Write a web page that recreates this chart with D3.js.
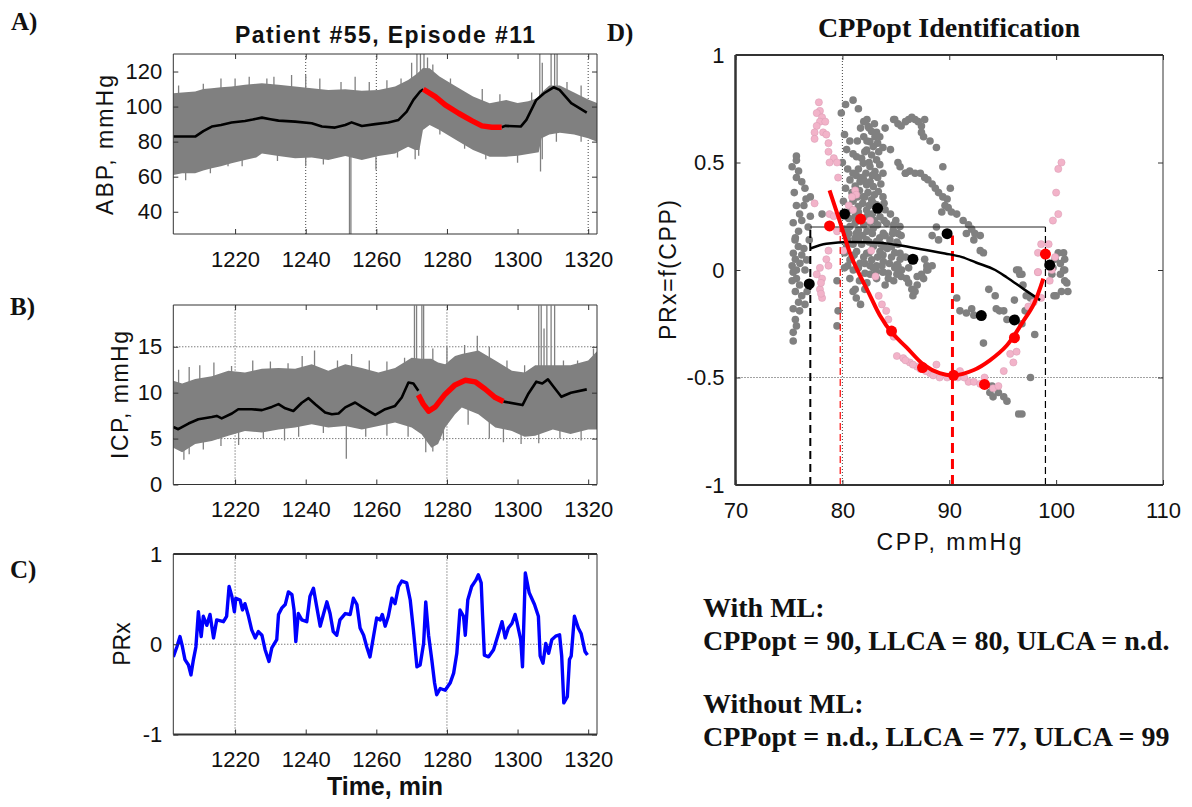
<!DOCTYPE html>
<html>
<head>
<meta charset="utf-8">
<script src="https://d3js.org/d3.v7.min.js"></script>
<style>
  body { margin: 0; background: #fff; }
</style>
</head>
<body>
<div id="chart"></div>
<script>
// ---------- data ----------
var timeTicks = [1220, 1240, 1260, 1280, 1300, 1320];
var abpTicks = [40, 60, 80, 100, 120];
var icpTicks = [0, 5, 10, 15];
var prxTicks = [-1, 0, 1];
var cppTicks = [70, 80, 90, 100, 110];
var prxfTicks = [-1, -0.5, 0, 0.5, 1];

// ABP raw band: [time, low, high]
var abpBand = [[1202.5,61,107.6],[1205,62,108],[1208.7,62,108.6],[1211,63.5,110],[1213.4,64.8,110.5],
  [1216,66,111],[1219,67.6,111.4],[1222.8,69.5,112.4],[1226,71,113],[1227.6,73.3,113.3],[1232.3,71.8,112.4],
  [1237,70.5,111.4],[1241.7,71,110.5],[1246.4,69.5,109.5],[1251.2,71.8,109.9],[1255.9,69.5,109.1],
  [1260.6,71.8,109.5],[1265.3,73.3,111.4],[1269,77.1,115.2],[1271,75.2,118],[1272.2,75.2,120],
  [1273.2,86.7,122],[1275.1,89.5,121.9],[1277.9,86.7,117.1],[1282.6,81,111.4],[1287.4,75.2,105.7],
  [1292.1,71.4,101.9],[1296.8,71.4,103.8],[1300,72,102],[1303,73,103],[1306,74,105],[1306.8,82,108],
  [1309,84,112],[1312,85,112],[1316,84,108],[1320,82,104],[1322.5,80,102]];
// ABP spikes: [time, value]
var abpSpikes = [[1204,112],[1211,113],[1216,116],[1220,116],[1224,117],[1229,116],[1231,117],[1236,118],
  [1240,118],[1244,116],[1250,114],[1254,117],[1258,114],[1263,115],[1267,116],[1270,125],[1271.5,130],
  [1272.5,130],[1273.5,130],[1274.5,128],[1276,124],[1281,116],[1290,110],[1295,107],[1304,108],
  [1306.3,130],[1307,125],[1309.5,130],[1310.5,130],[1311.2,130],[1314,114],[1318,112],
  [1206,58],[1213,62],[1218,66],[1222,66],[1232,69],[1240,66],[1245,67],[1252.4,27.3],[1252.8,27.3],
  [1259.9,64],[1266,71],[1271,70],[1272,72],[1278,84],[1285,76],[1291,70],[1300,68],[1306.5,63],
  [1307,70],[1311,80],[1318,80]];
// ABP mean: black parts and the red part
var abpMean = [[1202.5,82.9],[1205,82.9],[1208.7,82.9],[1211,86],[1213.4,88.6],[1216,89.5],[1219,90.9],
  [1222.8,91.8],[1225,92.6],[1227.6,93.7],[1230,92.8],[1232.3,92],[1237,91.4],[1241.7,90.5],[1244.6,88.6],
  [1248.3,88],[1251.2,89.5],[1253,91],[1255.9,88.9],[1259.7,90],[1263.4,90.9],[1266.3,92.4],[1268.6,97.1],
  [1270.5,103.8],[1272.4,108.6],[1273.3,109.9]];
var abpRed = [[1273.3,109.9],[1276.7,105.7],[1279.5,101],[1283.3,96.2],[1287,92],[1289.9,89],
  [1292.7,88.2],[1295.5,88.2]];
var abpTail = [[1295.5,88.2],[1296.5,89],[1300.9,88.6],[1302.5,92.4],[1305.3,103.8],[1307.5,107.6],
  [1310.2,111],[1311.9,109.5],[1315.2,102],[1319.6,96.6]];

// ICP raw band
var icpBand = [[1202.5,4.0,11.3],[1205,3.5,11.0],[1208.7,4.4,11.5],[1213.4,4.75,11.8],[1218.1,5.3,12.4],
  [1222.8,5.84,12.2],[1227.6,5.65,12.6],[1232.3,6.0,12.7],[1237,6.2,12.6],[1241.7,6.56,13.1],
  [1246.4,6.2,12.4],[1251.2,6.38,13.1],[1255.9,6.0,12.7],[1260.6,6.38,12.2],[1265.3,6.75,12.7],
  [1270,6.2,13.8],[1272.8,5.47,13.7],[1275.6,4.0,13.7],[1277.5,4.4,13.3],[1279.5,6.2,13.1],
  [1282.3,7.65,14.0],[1284.2,8.4,14.2],[1288.9,7.65,14.6],[1293.7,6.2,13.5],[1298.4,5.84,12.4],
  [1302,5.2,12.2],[1305,5.3,13],[1310,6,13],[1315,5.5,13],[1320,6,13.5],[1322.5,6,14.5]];
var icpSpikes = [[1204,12.5],[1207,12.8],[1210,13],[1214,13.3],[1219,12.9],[1225,13.5],[1230,13.4],
  [1235,13.2],[1239,14],[1242.5,14.6],[1249,13.5],[1253,14.2],[1258,13.5],[1263,13.4],[1268,13.8],
  [1270.8,19.5],[1271.4,19.5],[1272.9,19.5],[1273.4,19.5],[1276,14.8],[1280,15],[1285,15.2],
  [1288.6,16.2],[1292,15],[1297,13.5],[1302,13],[1306,19.5],[1306.7,19.5],[1307.5,17],[1308.3,19.5],
  [1309.5,19.5],[1310.5,19.5],[1313,13.5],[1317,13.5],[1321.5,14.8],
  [1205.5,2.7],[1207,3.3],[1211,3.8],[1216,4.2],[1221,4.3],[1228,5.0],[1234,4.8],[1238,5.2],[1245,5.6],
  [1251.5,2.8],[1257,5.2],[1263,5.3],[1269,5.2],[1274,3.5],[1276,3.6],[1279,4.8],[1286,6.5],[1292,5],
  [1296,4.6],[1301,4.4],[1306,4.5],[1312,5],[1318,4.8]];
var icpMean = [[1202.5,6.27],[1203.9,6.02],[1206.8,6.64],[1209.6,7.11],[1213.4,7.36],[1214.8,7.47],
  [1216.2,7.2],[1219.1,7.73],[1220.9,8.2],[1224.7,8.2],[1227.6,8.1],[1230.4,8.45],[1232.3,8.75],
  [1234.2,8.3],[1236.5,8.0],[1238.9,8.9],[1240.8,9.4],[1242.7,8.75],[1245.5,7.84],[1247.4,7.65],
  [1249.3,7.73],[1251.2,8.4],[1254,8.93],[1255.9,8.45],[1259.7,7.58],[1262.5,8.2],[1265.3,8.56],
  [1267.2,9.47],[1269.1,11.1],[1270.5,11.0],[1271.9,10.2]];
var icpRed = [[1271.9,9.76],[1273.3,8.75],[1274.8,8.0],[1276.7,8.45],[1279.5,9.84],[1282.3,10.85],
  [1285.2,11.36],[1288,11.18],[1290.8,10.4],[1293.7,9.47],[1296,9.04]];
var icpTail = [[1296,9.04],[1296.5,9.0],[1301.4,8.65],[1303.1,9.92],[1305.3,11.2],[1307,11.0],
  [1308.6,11.45],[1310.2,10.65],[1312.4,9.55],[1315.1,10],[1319.6,10.36]];

// PRx time series
var prx = [[1202.5,-0.14],[1203.5,-0.03],[1204.4,0.085],[1205.1,-0.03],[1205.8,-0.17],[1206.8,-0.23],
  [1207.5,-0.34],[1208.2,-0.17],[1208.9,-0.03],[1209.6,0.36],[1210.4,0.085],[1211,0.31],[1212,0.21],
  [1212.9,0.33],[1213.9,0.07],[1214.8,0.27],[1216.7,0.25],[1217.6,0.31],[1218.3,0.64],[1219.1,0.53],
  [1219.8,0.36],[1220.2,0.51],[1221.4,0.49],[1222.1,0.38],[1222.8,0.45],[1223.8,0.31],[1224.7,0.16],
  [1225.7,0.07],[1226.6,0.14],[1227.6,0.10],[1228.5,-0.06],[1229.6,-0.19],[1230.4,-0.04],[1231.8,0.05],
  [1232.3,0.33],[1233.2,0.40],[1234.2,0.44],[1235.1,0.58],[1236.1,0.55],[1236.7,0.38],[1237.2,0.03],
  [1237.9,0.34],[1238.9,0.27],[1240.3,0.25],[1241.2,0.53],[1242.2,0.62],[1243.1,0.42],[1244.1,0.20],
  [1245,0.33],[1246,0.47],[1246.9,0.34],[1247.8,0.14],[1248.8,0.10],[1249.7,0.27],[1251.2,0.34],
  [1252.6,0.33],[1253.5,0.51],[1254.5,0.44],[1255.4,0.18],[1256.4,0.10],[1257.3,-0.03],[1258.2,-0.14],
  [1259.2,0.085],[1260.1,0.29],[1261.1,0.27],[1261.7,0.33],[1262.5,0.20],[1263.4,0.31],[1264.4,0.51],
  [1265.3,0.45],[1266.3,0.64],[1267.2,0.70],[1268.6,0.68],[1269.6,0.49],[1270.5,0.16],[1271.5,-0.25],
  [1272.4,-0.23],[1273.4,0.01],[1274,0.47],[1274.8,0.10],[1275.7,-0.17],[1276.5,-0.43],[1277.1,-0.56],
  [1278.1,-0.49],[1279.5,-0.51],[1280.9,-0.43],[1281.9,-0.32],[1282.8,-0.10],[1283.7,0.38],[1284.7,0.31],
  [1285.2,0.10],[1285.9,0.49],[1287,0.64],[1288.2,0.71],[1288.9,0.77],[1289.7,0.68],[1290.1,0.31],
  [1290.6,-0.12],[1291.8,-0.14],[1293.2,-0.06],[1294.6,0.12],[1295.6,0.25],[1296.5,0.07],[1297.4,0.18],
  [1298.4,0.23],[1299.3,0.33],[1299.8,0.25],[1300.9,0.05],[1301.4,-0.25],[1302.2,0.79],[1303.3,0.57],
  [1304.8,0.44],[1305.9,0.31],[1306.4,-0.13],[1307.2,-0.21],[1308,0.01],[1308.8,-0.10],[1309.7,0.05],
  [1310.8,0.09],[1311.9,0.105],[1312.5,-0.13],[1313.1,-0.65],[1314.1,-0.58],[1314.7,-0.17],[1315.2,-0.13],
  [1316.1,0.31],[1317.2,0.18],[1318,0.12],[1319.1,-0.08],[1319.8,-0.12]];

// PRx vs CPP scatter: [CPP, PRx]
var greyPts = [[80.3,0.77],[81.0,0.79],[81.5,0.75],[79.9,0.73],[82.3,0.70],[80.2,0.63],[80.4,0.56],
  [75.7,0.53],[75.7,0.51],[75.7,0.43],[76.5,0.38],[77.0,0.34],[75.7,0.30],[76.4,0.30],[76.2,0.23],
  [75.9,0.18],[77.0,0.25],[78.1,0.26],[76.4,0.10],[75.6,0.05],[75.7,0.0],[84.0,0.66],[84.8,0.70],
  [84.5,0.56],[85.4,0.48],[85.9,0.45],[83.8,0.57],
  [82.42,0.667],[82.74,0.644],[83.05,0.62],[82.58,0.597],[82.89,0.574],[82.27,0.558],[82.74,0.535],
  [83.2,0.512],[81.96,0.496],[82.58,0.481],[83.05,0.458],[81.33,0.527],[80.71,0.419],[81.65,0.411],
  [82.27,0.396],[82.89,0.388],[83.36,0.365],[81.02,0.357],[81.96,0.341],[82.74,0.326],[83.2,0.303],
  [81.49,0.295],[82.27,0.279],[80.4,0.264],[81.18,0.248],[81.8,0.233],[83.52,0.248],[84.14,0.217],
  [80.71,0.202],[81.49,0.186],[82.89,0.194],[83.83,0.171],[84.76,0.186],[85.39,0.202],[81.18,0.148],
  [82.27,0.14],[83.2,0.132],[84.45,0.14],[80.4,0.109],[81.33,0.086],[82.27,0.078],[83.52,0.086],
  [84.61,0.109],[85.39,0.078],[80.71,0.047],[81.65,0.031],[82.74,0.047],[83.83,0.039],[85.08,0.024],
  [81.02,0.0],[82.11,-0.015],[83.2,-0.007],[84.3,-0.015],[85.54,0.0],
  [75.57,0.14],[75.88,0.109],[75.41,0.078],[76.03,0.031],[76.5,0.0],[76.66,0.047],
  [82.0,0.62],[82.3,0.6],[83.3,0.59],[82.1,0.55],[83.4,0.55],[81.8,0.52],[82.5,0.5],[83.5,0.49],
  [81.5,0.47],[82.2,0.45],[83.3,0.43],[81.3,0.44],[82.0,0.42],[82.6,0.41],[83.6,0.4],[81.2,0.39],
  [81.6,0.37],[82.4,0.36],[83.0,0.35],[83.8,0.34],[81.0,0.32],[81.9,0.31],[82.5,0.3],[83.5,0.29],
  [84.0,0.28],[80.8,0.28],[81.5,0.27],[82.8,0.26],[84.5,0.26],[81.2,0.22],[82.0,0.21],[82.6,0.22],
  [83.3,0.21],[85.0,0.23],[80.6,0.17],[81.9,0.16],[82.8,0.17],[84.0,0.16],[85.5,0.16],[81.0,0.12],
  [81.8,0.12],[82.9,0.11],[83.9,0.11],[85.2,0.12],[80.9,0.06],[82.0,0.06],[83.3,0.06],[84.6,0.06],
  [85.9,0.06],[81.5,0.01],[82.6,0.02],[83.7,0.02],[84.9,0.01],[86.2,0.01],
  [80.0,0.50],[80.5,0.47],[81.0,0.45],[81.8,0.43],[82.8,0.44],[83.8,0.45],[80.3,0.38],[80.9,0.36],
  [81.4,0.34],[82.1,0.34],[82.9,0.31],[83.9,0.31],[80.1,0.32],[80.6,0.24],[81.6,0.24],[82.3,0.25],
  [83.0,0.23],[83.9,0.23],[84.8,0.21],[80.2,0.19],[81.3,0.17],[82.3,0.18],[83.5,0.15],[84.7,0.17],
  [80.5,0.14],[81.5,0.14],[82.5,0.13],[83.6,0.12],[84.2,0.1],[80.2,0.08],[81.1,0.07],[82.5,0.08],
  [83.8,0.07],[84.9,0.08],[80.5,0.02],[82.1,0.03],[83.2,0.02],[84.4,0.03],[82.5,0.66],[83.2,0.64],
  [82.0,0.69],[83.0,0.68],[81.7,0.66],[83.5,0.62],[81.4,0.6],[81.0,0.54],[80.7,0.6],
  [75.3,0.48],[75.9,0.46],[76.2,0.41],[75.5,0.36],[76.6,0.33],[76.0,0.26],[75.4,0.22],[76.8,0.2],
  [75.6,0.15],[76.9,0.14],[76.2,0.07],[75.3,0.02],
  [84.9,0.70],[85.2,0.68],[85.5,0.67],[85.9,0.69],[86.2,0.70],[86.5,0.71],[86.8,0.70],[87.1,0.69],
  [87.4,0.67],[87.7,0.70],[87.4,0.64],[87.6,0.62],[88.2,0.60],[88.8,0.57],[85.2,0.50],[89.4,0.48],
  [85.9,0.45],[86.3,0.46],[86.8,0.45],[87.3,0.45],[87.7,0.43],[88.0,0.42],[88.4,0.40],[88.7,0.38],
  [89.0,0.36],[90.1,0.38],[89.4,0.34],[89.8,0.33],[89.6,0.30],[89.9,0.29],[89.3,0.27],[90.2,0.27],
  [90.7,0.26],[91.3,0.23],[91.8,0.21],[92.1,0.19],[91.6,0.17],[92.4,0.17],[92.3,0.14],[92.9,0.16],
  [88.8,0.20],[88.4,0.16],[89.0,0.14],[92.9,0.09],[93.2,0.08],[85.2,0.17],[85.1,0.13],[85.4,0.05],
  [85.2,0.02],[87.7,0.05],[87.9,0.02],[88.0,0.0],[96.5,0.0],[96.8,-0.02],
  [100.2,0.08],[100.7,0.08],[99.9,0.05],[100.4,0.03],[100.8,0.05],[100.7,0.0],[99.6,-0.02],
  [75.4,-0.01],[75.7,-0.04],[76.0,-0.07],[75.6,-0.10],[76.2,-0.12],[75.9,-0.15],[75.4,-0.18],
  [76.0,-0.19],[75.6,-0.23],[75.7,-0.26],[75.4,-0.29],[75.4,-0.33],[76.5,-0.16],[76.7,-0.10],[75.3,-0.05],
  [79.6,-0.19],[79.5,-0.26],[79.5,-0.05],[80.2,0.01],[80.7,-0.04],[81.2,-0.09],[81.3,-0.13],
  [81.7,-0.16],[82.1,-0.09],[82.6,-0.02],[82.9,0.01],[83.8,-0.01],[84.3,-0.04],[84.8,-0.05],
  [85.1,-0.02],[85.4,0.0],[86.0,-0.04],[86.5,-0.09],[86.6,-0.12],[87.0,-0.07],[87.4,-0.02],
  [87.9,0.0],[88.4,0.02],[90.7,-0.13],[91.0,-0.19],[91.6,-0.20],[92.1,-0.18],[92.3,-0.21],
  [93.2,-0.34],[93.7,-0.09],[94.3,-0.12],[94.4,-0.18],[94.7,-0.19],[95.1,-0.19],[95.4,-0.23],
  [96.1,-0.14],[96.3,0.0],[96.6,-0.02],[96.9,-0.07],[97.2,-0.12],[97.6,-0.13],[97.1,-0.19],
  [96.8,-0.25],[98.0,-0.30],[97.6,-0.50],[93.8,-0.57],[94.1,-0.59],[94.6,-0.57],[95.1,-0.59],
  [95.4,-0.61],[94.0,-0.54],[96.5,-0.67],[96.8,-0.67],[99.7,0.01],[100.4,-0.02],[100.8,-0.05],
  [101.1,-0.10],[100.0,-0.12],[100.8,0.0],[100.5,-0.1],[101.0,-0.06],[99.8,-0.12],
  [81.6,-0.05],[82.3,-0.06],[83.2,-0.04],[84.0,-0.07],[85.5,-0.03],[86.2,-0.06],[87.0,-0.03],
  [87.6,-0.04],[81.0,-0.1],[86.8,-0.1]];
var pinkPts = [[77.8,0.78],[77.9,0.74],[77.6,0.73],[78.1,0.71],[77.9,0.69],[78.4,0.69],[77.6,0.67],
  [77.4,0.64],[78.2,0.64],[77.4,0.61],[78.5,0.63],[78.7,0.59],[78.7,0.55],[79.2,0.52],[78.8,0.50],
  [79.5,0.50],[79.6,0.43],[81.2,0.37],[81.3,0.35],[80.9,0.34],[77.4,0.31],[78.8,0.26],[79.2,0.25],
  [82.6,0.23],[79.5,0.18],[78.7,0.09],[78.5,0.05],[78.7,0.02],[80.1,0.09],[82.7,0.09],[80.6,0.3],
  [81.0,0.28],[77.9,0.01],[78.1,-0.04],[77.9,-0.09],[78.1,-0.13],[77.6,-0.02],[78.0,-0.06],[78.0,-0.11],
  [83.1,-0.03],[83.4,-0.12],[83.7,-0.16],[84.1,-0.19],[84.3,-0.23],[84.8,-0.31],[85.1,-0.40],
  [85.7,-0.41],[86.3,-0.43],[87.0,-0.45],[88.2,-0.48],[88.8,-0.44],[89.1,-0.50],[89.8,-0.50],
  [91.0,-0.47],[91.8,-0.52],[92.3,-0.52],[92.9,-0.53],[93.3,-0.50],[94.1,-0.55],[94.6,-0.54],
  [95.1,-0.47],[95.7,-0.39],[96.3,-0.38],[96.0,-0.43],[97.4,-0.17],[97.9,-0.15],[98.3,-0.01],
  [98.6,-0.13],[99.4,-0.05],[85.9,-0.42],[86.6,-0.44],[87.3,-0.46],[87.8,-0.47],[88.5,-0.49],
  [90.3,-0.49],[90.8,-0.5],[91.4,-0.5],
  [100.5,0.50],[100.2,0.47],[100.0,0.36],[100.2,0.26],[99.7,0.23],[98.6,0.12],[99.3,0.12],
  [98.3,0.08],[99.9,0.06],[99.6,0.0],[98.3,-0.01]];
var blackBins = [[76.9,-0.065],[80.2,0.26],[83.3,0.287],[86.6,0.05],[89.8,0.169],[93.0,-0.212],
  [96.1,-0.232],[99.4,0.023]];
var redBins = [[78.8,0.205],[81.7,0.237],[84.6,-0.284],[87.5,-0.454],[90.4,-0.49],[93.3,-0.532],
  [96.1,-0.315],[99.0,0.074]];
var blackFit = [[77,0.10],[78.5,0.122],[80.7,0.13],[83.5,0.127],[85,0.117],[86.5,0.105],[89.6,0.077],
  [91.2,0.06],[92.5,0.035],[94.3,0.0],[95.4,-0.035],[97,-0.09],[98.5,-0.14]];
var redFit = [[78.8,0.37],[79.8,0.22],[80.7,0.08],[81.2,0.02],[82.6,-0.12],[83.5,-0.21],[84.6,-0.29],
  [86,-0.36],[87.6,-0.44],[89.1,-0.48],[90.4,-0.49],[92.3,-0.465],[93.8,-0.42],[95.4,-0.35],
  [96.9,-0.24],[97.9,-0.16],[98.8,-0.04]];
var limitsNoML = [77, 99];     // LLCA, ULCA without ML
var limitsML = [79.8, 90.3];   // LLCA, CPPopt with ML
var prxThreshold = 0.2;

var summaryLines = ["With ML:", "CPPopt = 90, LLCA = 80, ULCA = n.d.",
  "Without ML:", "CPPopt = n.d., LLCA = 77, ULCA = 99"];

// ---------- drawing ----------
var sans = "'Liberation Sans', Arial, sans-serif";
var serif = "'Liberation Serif', 'Times New Roman', serif";
var grey = "#808080";

var svg = d3.select("#chart").append("svg")
  .attr("width", 1192).attr("height", 807)
  .style("background", "#fff");

var xT = d3.scaleLinear().domain([1202.5, 1322.5]).range([173.3, 597]);
var yA = d3.scaleLinear().domain([27.3, 130]).range([234, 54]);
var yB = d3.scaleLinear().domain([0, 19.55]).range([484.5, 305]);
var yC = d3.scaleLinear().domain([-1, 1]).range([734.5, 554]);
var xD = d3.scaleLinear().domain([70, 110]).range([735.5, 1163]);
var yD = d3.scaleLinear().domain([-1, 1]).range([485, 55]);

var fmt = function(d) { return String(d); };
var blank = function() { return ""; };

function grid(x, y, xs, ys) {
  var g = svg.append("g").attr("stroke", "#444").attr("stroke-width", 1)
    .attr("stroke-dasharray", "1,2");
  xs.forEach(function(v) {
    g.append("line").attr("x1", x(v)).attr("x2", x(v))
      .attr("y1", y.range()[0]).attr("y2", y.range()[1]);
  });
  ys.forEach(function(v) {
    g.append("line").attr("x1", x.range()[0]).attr("x2", x.range()[1])
      .attr("y1", y(v)).attr("y2", y(v));
  });
}

function styleAxis(sel) {
  sel.select(".domain").remove();
  sel.selectAll(".tick line").attr("stroke", "#333");
  sel.attr("font-size", 22).attr("font-family", sans);
  sel.selectAll("text").attr("fill", "#111");
}

function axes(x, y, xTicks, yTicks, boxWidths) {
  var x0 = x.range()[0], x1 = x.range()[1], yb = y.range()[0], yt = y.range()[1];
  svg.append("g").attr("transform", "translate(0," + yb + ")")
    .call(d3.axisBottom(x).tickValues(xTicks).tickSize(-5).tickPadding(17).tickFormat(fmt))
    .call(styleAxis);
  svg.append("g").attr("transform", "translate(0," + yt + ")")
    .call(d3.axisTop(x).tickValues(xTicks).tickSize(-5).tickFormat(blank)).call(styleAxis);
  svg.append("g").attr("transform", "translate(" + x0 + ",0)")
    .call(d3.axisLeft(y).tickValues(yTicks).tickSize(-5).tickPadding(11).tickFormat(fmt))
    .call(styleAxis);
  svg.append("g").attr("transform", "translate(" + x1 + ",0)")
    .call(d3.axisRight(y).tickValues(yTicks).tickSize(-5).tickFormat(blank)).call(styleAxis);
  var w = boxWidths || [1, 1, 1, 1]; // top, right, bottom, left
  var b = svg.append("g").attr("stroke", "#333");
  b.append("line").attr("x1", x0).attr("x2", x1).attr("y1", yt).attr("y2", yt).attr("stroke-width", w[0]);
  b.append("line").attr("x1", x1).attr("x2", x1).attr("y1", yt).attr("y2", yb).attr("stroke-width", w[1]);
  b.append("line").attr("x1", x0).attr("x2", x1).attr("y1", yb).attr("y2", yb).attr("stroke-width", w[2]);
  b.append("line").attr("x1", x0).attr("x2", x0).attr("y1", yt).attr("y2", yb).attr("stroke-width", w[3]);
}

function clip(id, x, y) {
  svg.append("clipPath").attr("id", id).append("rect")
    .attr("x", x.range()[0]).attr("y", y.range()[1])
    .attr("width", x.range()[1] - x.range()[0]).attr("height", y.range()[0] - y.range()[1]);
  return svg.append("g").attr("clip-path", "url(#" + id + ")");
}

function signalPanel(id, y, band, spikes, mean, red, tail) {
  var g = clip(id, xT, y);
  g.append("path").datum(band)
    .attr("fill", grey)
    .attr("d", d3.area().x(function(d) { return xT(d[0]); })
      .y0(function(d) { return y(d[1]); }).y1(function(d) { return y(d[2]); }));
  var midS = d3.scaleLinear().domain(band.map(function(d) { return d[0]; }))
    .range(band.map(function(d) { return (d[1] + d[2]) / 2; }));
  g.append("g").attr("stroke", grey).attr("stroke-width", 1.3)
    .selectAll("line").data(spikes).join("line")
    .attr("x1", function(d) { return xT(d[0]); }).attr("x2", function(d) { return xT(d[0]); })
    .attr("y1", function(d) { return y(midS(d[0])); }).attr("y2", function(d) { return y(d[1]); });
  var line = d3.line().x(function(d) { return xT(d[0]); }).y(function(d) { return y(d[1]); });
  [mean, tail].forEach(function(s) {
    g.append("path").datum(s).attr("fill", "none").attr("stroke", "#000")
      .attr("stroke-width", 2.6).attr("stroke-linejoin", "round").attr("d", line);
  });
  g.append("path").datum(red).attr("fill", "none").attr("stroke", "#ff0000")
    .attr("stroke-width", 5.5).attr("stroke-linejoin", "round").attr("d", line);
}

// Panel A
grid(xT, yA, [1240, 1260, 1320], []);
signalPanel("clipA", yA, abpBand, abpSpikes, abpMean, abpRed, abpTail);
axes(xT, yA, timeTicks, abpTicks);

// Panel B
grid(xT, yB, [1220, 1280], [5, 15]);
signalPanel("clipB", yB, icpBand, icpSpikes, icpMean, icpRed, icpTail);
axes(xT, yB, timeTicks, icpTicks);

// Panel C
grid(xT, yC, [1220, 1280], [0]);
var gC = clip("clipC", xT, yC);
gC.append("path").datum(prx).attr("fill", "none").attr("stroke", "#0000ff")
  .attr("stroke-width", 3.4).attr("stroke-linejoin", "round")
  .attr("d", d3.line().x(function(d) { return xT(d[0]); }).y(function(d) { return yC(d[1]); }));
axes(xT, yC, timeTicks, prxTicks, [2, 1, 2, 1]);

// Panel D
grid(xD, yD, [80], [-0.5]);
var gD = svg.append("g");
gD.append("g").selectAll("circle").data(greyPts).join("circle")
  .attr("cx", function(d) { return xD(d[0]); }).attr("cy", function(d) { return yD(d[1]); })
  .attr("r", 3.8).attr("fill", grey);
gD.append("g").selectAll("circle").data(pinkPts).join("circle")
  .attr("cx", function(d) { return xD(d[0]); }).attr("cy", function(d) { return yD(d[1]); })
  .attr("r", 3.6).attr("fill", "#f2b3c9").attr("stroke", "#d99ab2").attr("stroke-width", 0.5);

// threshold line and the limits
gD.append("line").attr("x1", xD(limitsNoML[0])).attr("x2", xD(limitsNoML[1]))
  .attr("y1", yD(prxThreshold)).attr("y2", yD(prxThreshold))
  .attr("stroke", "#222").attr("stroke-width", 1);
var vlines = [
  { c: limitsNoML[0], top: prxThreshold, color: "#000", w: 2, dash: "8,5" },
  { c: limitsNoML[1], top: prxThreshold, color: "#000", w: 1.2, dash: "7,4" },
  { c: limitsML[0], top: prxThreshold, color: "#ff0000", w: 1.2, dash: "7,4" },
  { c: limitsML[1], top: 0.16, color: "#ff0000", w: 3, dash: "10,6" }
];
gD.append("g").selectAll("line").data(vlines).join("line")
  .attr("x1", function(d) { return xD(d.c); }).attr("x2", function(d) { return xD(d.c); })
  .attr("y1", yD(-1)).attr("y2", function(d) { return yD(d.top); })
  .attr("stroke", function(d) { return d.color; })
  .attr("stroke-width", function(d) { return d.w; })
  .attr("stroke-dasharray", function(d) { return d.dash; });

var lineD = d3.line().curve(d3.curveMonotoneX)
  .x(function(d) { return xD(d[0]); }).y(function(d) { return yD(d[1]); });
gD.append("path").datum(blackFit).attr("fill", "none").attr("stroke", "#000")
  .attr("stroke-width", 2.5).attr("d", lineD);
gD.append("g").selectAll("circle").data(blackBins).join("circle")
  .attr("cx", function(d) { return xD(d[0]); }).attr("cy", function(d) { return yD(d[1]); })
  .attr("r", 5.5).attr("fill", "#000");
gD.append("path").datum(redFit).attr("fill", "none").attr("stroke", "#ff0000")
  .attr("stroke-width", 4).attr("d", d3.line().curve(d3.curveCatmullRom)
    .x(function(d) { return xD(d[0]); }).y(function(d) { return yD(d[1]); }));
gD.append("g").selectAll("circle").data(redBins).join("circle")
  .attr("cx", function(d) { return xD(d[0]); }).attr("cy", function(d) { return yD(d[1]); })
  .attr("r", 5.5).attr("fill", "#ff0000");
axes(xD, yD, cppTicks, prxfTicks, [2, 1, 2, 2.5]);

// ---------- text ----------
function label(txt, x, y, opts) {
  var t = svg.append("text").attr("x", x).attr("y", y).text(txt)
    .attr("font-family", opts.family || sans)
    .attr("font-size", opts.size || 22)
    .attr("font-weight", opts.weight || "normal")
    .attr("text-anchor", opts.anchor || "start")
    .attr("fill", "#111");
  if (opts.len) t.attr("textLength", opts.len).attr("lengthAdjust", "spacing");
  if (opts.rotate) t.attr("transform", "rotate(-90," + x + "," + y + ")");
  return t;
}

label("A)", 11, 30, { family: serif, size: 25, weight: "bold" });
label("B)", 10, 315, { family: serif, size: 25, weight: "bold" });
label("C)", 10, 578, { family: serif, size: 25, weight: "bold" });
label("D)", 607, 41, { family: serif, size: 25, weight: "bold" });

label("Patient #55, Episode #11", 385, 43, { size: 23, weight: "bold", anchor: "middle", len: 300 });
label("CPPopt Identification", 949, 37, { family: serif, size: 28, weight: "bold", anchor: "middle" });

label("ABP, mmHg", 113, 145, { size: 23, anchor: "middle", rotate: true, len: 140 });
label("ICP, mmHg", 128, 395, { size: 23, anchor: "middle", rotate: true, len: 128 });
label("PRx", 130, 644, { size: 23, anchor: "middle", rotate: true });
label("PRx=f(CPP)", 676, 270, { size: 23, anchor: "middle", rotate: true, len: 140 });
label("Time, min", 385, 795, { size: 25, weight: "bold", anchor: "middle" });
label("CPP, mmHg", 949, 550, { size: 23, anchor: "middle", len: 145 });

var lineY = [617, 650, 713, 746];
summaryLines.forEach(function(s, i) {
  label(s, 703, lineY[i], { family: serif, size: 28, weight: "bold" });
});
</script>
</body>
</html>
